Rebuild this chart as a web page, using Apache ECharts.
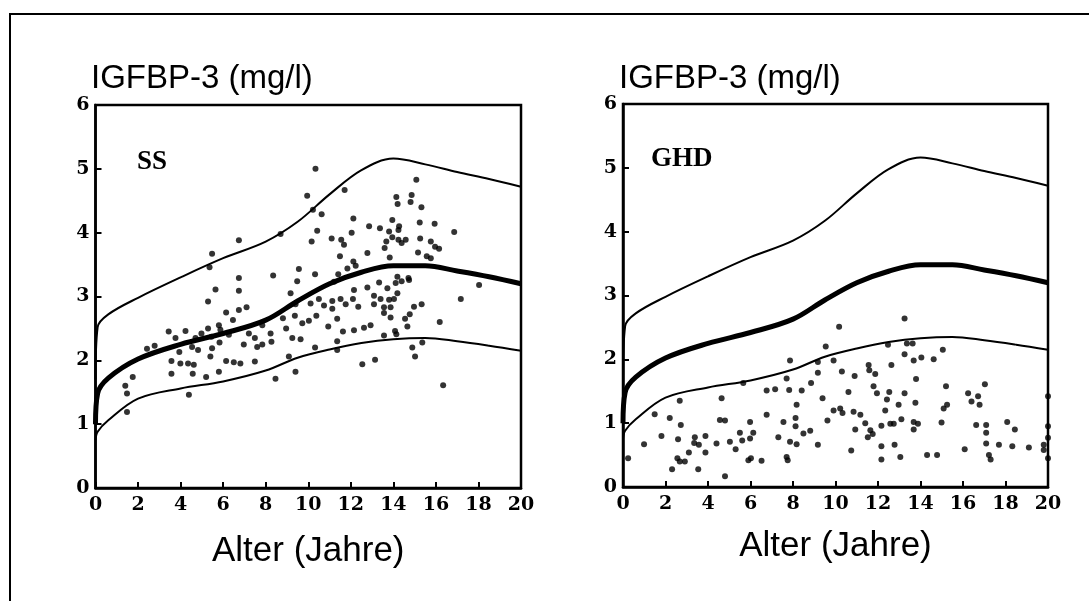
<!DOCTYPE html>
<html>
<head>
<meta charset="utf-8">
<script src="https://cdn.jsdelivr.net/npm/echarts@6/dist/echarts.min.js"></script>
<style>
html, body { margin: 0; padding: 0; background: #fff; }
#chart { width: 1089px; height: 601px; }
</style>
</head>
<body>
<div id="chart"></div>
<script>
// reference percentile curves (same in both panels)
const refAge    = [0, 0.1, 0.6, 2, 4, 6, 8, 9.5, 11, 12.5, 14, 15.5, 17, 18.5, 20]
const refUpper  = [1.7, 2.52, 2.72, 2.98, 3.3, 3.6, 3.86, 4.17, 4.6, 4.98, 5.16, 5.07, 4.95, 4.84, 4.72]
const refMedian = [1.0, 1.48, 1.72, 2.02, 2.25, 2.42, 2.63, 2.93, 3.2, 3.38, 3.48, 3.48, 3.4, 3.31, 3.2]
const refLower  = [0.75, 0.88, 1.06, 1.4, 1.56, 1.67, 1.84, 2.04, 2.17, 2.27, 2.33, 2.35, 2.3, 2.23, 2.15]

// SS patients [age, IGFBP-3]
const ssPoints = [
    [5.48,3.67],[6.74,3.88],[5.36,3.46],[8.7,3.98],[6.74,3.29],[8.35,3.33],
    [10.34,5.0],[9.95,4.58],[11.71,4.67],[15.08,4.83],[10.22,4.36],[10.63,4.29],[12.12,4.22],
    [10.42,4.03],[10.16,3.86],[11.1,3.91],[11.55,3.89],[11.68,3.81],[12.04,4.0],[12.86,4.1],
    [13.37,4.07],[13.95,4.2],[14.14,4.56],[14.2,4.45],[14.86,4.59],[14.81,4.48],[15.32,4.4],
    [15.24,4.16],[15.94,4.14],[16.86,4.01],[14.27,4.1],[13.8,4.02],[14.24,4.04],[13.95,3.93],
    [13.67,3.86],[14.24,3.89],[14.58,3.89],[14.39,3.84],[13.59,3.76],[15.26,3.91],[15.76,3.86],
    [15.96,3.78],[16.15,3.75],[15.16,3.69],[15.57,3.63],[15.76,3.6],[13.83,3.61],[12.78,3.68],
    [11.49,3.63],[12.12,3.55],[12.23,3.48],[11.84,3.44],[9.56,3.43],[10.32,3.35],[11.41,3.35],
    [14.19,3.31],[14.71,3.29],
    [5.64,3.11],[6.74,3.09],[9.17,3.05],[5.29,2.92],[6.14,2.75],[6.74,2.79],[7.1,2.83],
    [6.46,2.63],[8.81,2.66],[9.37,2.7],[3.44,2.45],[4.23,2.46],[3.76,2.35],[5.29,2.5],
    [5.8,2.55],[4.98,2.42],[5.45,2.37],[6.27,2.4],[5.87,2.48],[7.21,2.42],[7.49,2.35],
    [7.84,2.55],[8.23,2.42],[8.96,2.5],[9.25,2.35],[4.7,2.35],[4.54,2.21],[4.82,2.16],
    [2.42,2.18],[2.78,2.23],[3.94,2.13],[5.48,2.19],[5.83,2.28],[6.97,2.25],[7.6,2.21],
    [7.84,2.25],[8.27,2.29],[3.57,1.99],[3.99,1.95],[4.35,1.95],[4.62,1.93],[5.4,2.06],
    [6.14,1.99],[6.5,1.97],[6.81,1.95],[7.49,1.98],[9.09,2.06],[3.57,1.79],[4.57,1.79],
    [5.2,1.74],[5.8,1.82],[1.75,1.74],[1.4,1.6],[1.48,1.48],[4.39,1.46],[1.48,1.19],
    [8.46,1.71],[9.4,1.82],
    [9.48,3.24],[13.33,3.22],[14.11,3.21],[14.39,3.24],[14.74,3.26],[18.03,3.18],[17.17,2.96],
    [11.21,3.23],[12.15,3.1],[12.78,3.14],[13.72,3.13],[14.19,3.05],[13.09,3.01],[13.4,2.96],
    [13.8,2.95],[14.03,2.96],[11.52,2.96],[12.1,2.96],[11.13,2.93],[10.5,2.96],[10.11,2.89],
    [10.74,2.86],[11.13,2.81],[11.76,2.88],[12.35,2.84],[13.09,2.88],[13.56,2.83],[13.87,2.83],
    [14.97,2.84],[15.33,2.88],[9.4,2.88],[10.38,2.7],[10.03,2.62],[9.72,2.58],[11.36,2.65],
    [13.56,2.74],[13.87,2.67],[14.77,2.72],[14.55,2.65],[14.66,2.53],[16.18,2.6],[10.94,2.53],
    [11.63,2.45],[12.15,2.47],[12.62,2.51],[12.93,2.55],[14.08,2.46],[14.14,2.41],[13.56,2.39],
    [9.64,2.33],[11.36,2.3],[10.32,2.2],[11.36,2.16],[14.89,2.2],[15.36,2.28],[15.02,2.06],
    [12.54,1.94],[13.14,2.01],[16.34,1.61]
]

// GHD patients [age, IGFBP-3]
const ghdPoints = [
    [7.86,1.98],[9.17,1.96],[9.17,1.79],[7.7,1.7],[5.66,1.63],[8.85,1.63],[6.76,1.51],
    [7.16,1.53],[7.82,1.52],[8.41,1.51],
    [13.25,2.64],[10.17,2.51],[9.54,2.2],[12.47,2.23],[13.36,2.25],[13.63,2.25],[15.05,2.15],
    [13.25,2.08],[14.04,2.03],[13.68,1.98],[14.62,2.0],[9.91,1.98],[10.3,1.81],[11.56,1.91],
    [11.59,1.83],[11.87,1.77],[12.63,1.91],[10.9,1.74],[13.79,1.69],[11.79,1.58],[15.2,1.58],
    [17.03,1.61],[10.61,1.49],[11.95,1.47],[12.53,1.49],[13.25,1.47],[16.24,1.47],
    [4.64,1.39],[2.67,1.35],[1.49,1.14],[2.2,1.08],[2.72,0.97],[4.56,1.05],[4.8,1.04],
    [5.98,1.02],[6.76,1.13],[7.55,1.02],[8.17,1.29],[8.12,1.08],[8.12,0.95],[9.39,1.39],
    [8.81,0.88],[8.49,0.84],[1.81,0.8],[0.99,0.67],[2.59,0.75],[3.38,0.78],[3.88,0.8],
    [3.35,0.69],[3.57,0.66],[4.4,0.68],[5.03,0.71],[5.5,0.85],[5.61,0.73],[5.98,0.76],
    [6.13,0.85],[7.31,0.78],[7.86,0.71],[8.17,0.67],[9.17,0.66],[5.3,0.59],[3.1,0.54],
    [3.88,0.54],[0.24,0.45],[2.56,0.45],[2.67,0.4],[2.91,0.4],[5.9,0.42],[6.02,0.45],
    [6.52,0.41],[7.7,0.47],[7.75,0.42],[2.31,0.28],[3.54,0.28],[4.8,0.17],
    [16.71,1.42],[12.42,1.37],[13.76,1.32],[12.97,1.29],[15.25,1.29],[15.09,1.23],[16.4,1.34],
    [16.78,1.29],[9.91,1.2],[10.22,1.23],[10.33,1.16],[10.85,1.18],[11.17,1.13],[12.34,1.2],
    [9.62,1.04],[11.4,1.0],[12.16,0.96],[12.58,0.99],[12.74,0.99],[13.1,1.06],[13.68,1.02],
    [13.88,0.99],[13.68,0.9],[14.99,1.01],[16.62,0.97],[17.09,0.97],[17.09,0.85],[18.08,1.02],
    [18.44,0.9],[10.93,0.9],[11.64,0.89],[11.75,0.83],[11.52,0.78],[10.74,0.57],[12.16,0.64],
    [12.78,0.66],[12.16,0.43],[13.05,0.47],[14.31,0.5],[14.78,0.5],[16.08,0.59],[17.09,0.68],
    [17.69,0.66],[18.32,0.64],[19.1,0.62],[17.3,0.43],[17.22,0.5],
    [20,1.42],[20,0.95],[20,0.77],[20,0.45],[19.8,0.66],[19.8,0.58]
]

const xTicks = [0, 2, 4, 6, 8, 10, 12, 14, 16, 18, 20]
const yTicks = [0, 1, 2, 3, 4, 5, 6]
const yTitle = 'IGFBP-3 (mg/l)'
const xTitle = 'Alter (Jahre)'
const panelNames = ['SS', 'GHD']

const pair = (xs, ys) => xs.map((x, i) => [x, ys[i]])

const tickFont = { color: '#000', fontFamily: 'DejaVu Serif', fontWeight: 'bold', fontSize: 19 }

const makeX = (gridIndex, gap) => ({
    gridIndex,
    type: 'value',
    min: xTicks[0],
    max: xTicks[xTicks.length - 1],
    interval: 2,
    name: xTitle,
    nameLocation: 'middle',
    nameGap: gap,
    nameTextStyle: { color: '#000', fontFamily: 'Liberation Sans', fontSize: 35 },
    axisLine: { lineStyle: { color: '#000', width: 2.5 } },
    axisTick: { inside: true, length: 6, lineStyle: { color: '#000', width: 2 } },
    axisLabel: { ...tickFont, margin: 8 },
    splitLine: { show: false }
})

const makeY = (gridIndex) => ({
    gridIndex,
    type: 'value',
    min: yTicks[0],
    max: yTicks[yTicks.length - 1],
    interval: 1,
    axisLine: { show: true, lineStyle: { color: '#000', width: 2.5 } },
    axisTick: { show: true, inside: true, length: 6, lineStyle: { color: '#000', width: 2 } },
    axisLabel: { ...tickFont, margin: 6 },
    splitLine: { show: false }
})

const curve = (idx, ys, width) => ({
    type: 'line',
    xAxisIndex: idx,
    yAxisIndex: idx,
    data: pair(refAge, ys),
    symbol: 'none',
    smooth: 0.35,
    lineStyle: { color: '#000', width },
    silent: true
})

const dots = (idx, data) => ({
    type: 'scatter',
    xAxisIndex: idx,
    yAxisIndex: idx,
    data,
    symbol: 'circle',
    symbolSize: 6,
    itemStyle: { color: '#000' }
})

const chart = echarts.init(document.getElementById('chart'))

chart.setOption({
    backgroundColor: '#fff',
    animation: false,
    grid: [
        { left: 95.5, top: 105, width: 425.5, height: 383, show: true, borderColor: '#000', borderWidth: 2.5, backgroundColor: 'transparent' },
        { left: 623, top: 104, width: 425, height: 383, show: true, borderColor: '#000', borderWidth: 2.5, backgroundColor: 'transparent' }
    ],
    xAxis: [makeX(0, 46), makeX(1, 42)],
    yAxis: [makeY(0), makeY(1)],
    graphic: [
        { type: 'polyline', shape: { points: [[10, 601], [10, 14], [1089, 14]] }, style: { stroke: '#000', lineWidth: 2, fill: null } },
        { type: 'text', x: 91, y: 79, style: { text: yTitle, fill: '#000', font: '33px "Liberation Sans"', textVerticalAlign: 'middle' } },
        { type: 'text', x: 619, y: 79, style: { text: yTitle, fill: '#000', font: '33px "Liberation Sans"', textVerticalAlign: 'middle' } },
        { type: 'text', x: 137, y: 162, style: { text: panelNames[0], fill: '#000', font: 'bold 27px "Liberation Serif"', textVerticalAlign: 'middle' } },
        { type: 'text', x: 651, y: 159, style: { text: panelNames[1], fill: '#000', font: 'bold 27px "Liberation Serif"', textVerticalAlign: 'middle' } }
    ],
    series: [
        curve(0, refUpper, 2),
        curve(0, refMedian, 5),
        curve(0, refLower, 2),
        dots(0, ssPoints),
        curve(1, refUpper, 2),
        curve(1, refMedian, 5),
        curve(1, refLower, 2),
        dots(1, ghdPoints)
    ]
})

window.addEventListener('resize', () => chart.resize())
</script>
</body>
</html>
